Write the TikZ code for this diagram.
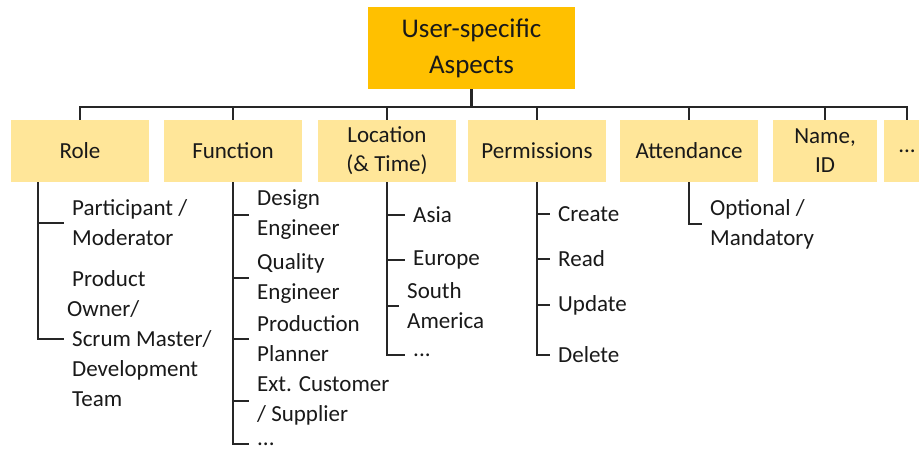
\documentclass[tikz,border=0pt]{standalone}
\usepackage{fontspec}
\setmainfont{Carlito}
\usetikzlibrary{positioning}
\definecolor{rootorange}{HTML}{FFC000}
\definecolor{aspectyellow}{HTML}{FFE699}
\definecolor{linegray}{HTML}{262626}

\begin{document}
\begin{tikzpicture}[x=1pt,y=-1pt]
    \tikzset{root/.style = {fill=rootorange,minimum width=207pt,minimum height=82pt,align=center,text=black!90,font=\fontsize{27}{36}\selectfont}}
    \tikzset{aspect/.style = {fill=aspectyellow,minimum width=138pt,minimum height=62pt,align=center,text=black!90,font=\fontsize{23}{29}\selectfont}}
    \tikzset{item/.style = {anchor=west,align=left,inner xsep=8pt,inner ysep=0pt,text=black!90,font=\fontsize{23}{30}\selectfont}}
    \tikzset{bus/.style = {draw=linegray,line width=1.6pt}}
    \tikzset{branch/.style = {draw=linegray,line width=1.5pt}}
    \useasboundingbox (0,0) rectangle (919,453);
    % root
    \node[root] (user) at (471.5,48) {User-specific\\Aspects};
    % aspects
    \node[aspect] (role) at (80,151) {Role};
    \node[aspect] (function) at (233,151) {Function};
    \node[aspect] (location) at (387,151) {Location\\(\& Time)};
    \node[aspect] (permissions) at (537,151) {Permissions};
    \node[aspect] (attendance) at (689,151) {Attendance};
    \node[aspect,minimum width=104pt] (name) at (825,151) {Name,\\ID};
    \node[aspect,minimum width=46pt] (more) at (907,151) {...};
    % bus
    \foreach \a in {role,function,location,permissions,attendance,name,more}
        \draw[bus] (user.south) -- ++(0,18) -| (\a.north);
    \draw[bus,line width=2.6pt] (user.south) -- ++(0,18);
    % items
    \node[item] (r1) at (64,223) {Participant /\\Moderator};
    \node[item] (r2) at (64,339) {Product\\\hspace*{-5pt}Owner/\\Scrum Master/\\Development\\Team};
    \node[item] (f1) at (249,215) {Design\\Engineer};
    \node[item] (f2) at (249,278) {Quality\\Engineer};
    \node[item] (f3) at (249,339) {Production\\Planner};
    \node[item] (f4) at (249,401) {Ext. Customer\\/ Supplier};
    \node[item] (f5) at (249,444) {...};
    \node[item] (l1) at (405,215) {Asia};
    \node[item] (l2) at (405,260) {Europe};
    \node[item] (l3) at (399,306) {South\\America};
    \node[item] (l4) at (405,355) {...};
    \node[item] (p1) at (550,214) {Create};
    \node[item] (p2) at (550,259) {Read};
    \node[item] (p3) at (550,305) {Update};
    \node[item] (p4) at (550,355) {Delete};
    \node[item] (a1) at (702,224) {Optional /\\Mandatory};
    % branches
    \draw[branch] ([xshift=-42pt]role.south) |- (r1.west);
    \draw[branch] ([xshift=-42pt]role.south) |- (r2.west);
    \foreach \i in {f1,f2,f3,f4,f5}
        \draw[branch] (function.south) |- (\i.west);
    \foreach \i in {l1,l2,l3,l4}
        \draw[branch] (location.south) |- (\i.west);
    \foreach \i in {p1,p2,p3,p4}
        \draw[branch] (permissions.south) |- (\i.west);
    \draw[branch] (attendance.south) |- (a1.west);
\end{tikzpicture}
\end{document}
